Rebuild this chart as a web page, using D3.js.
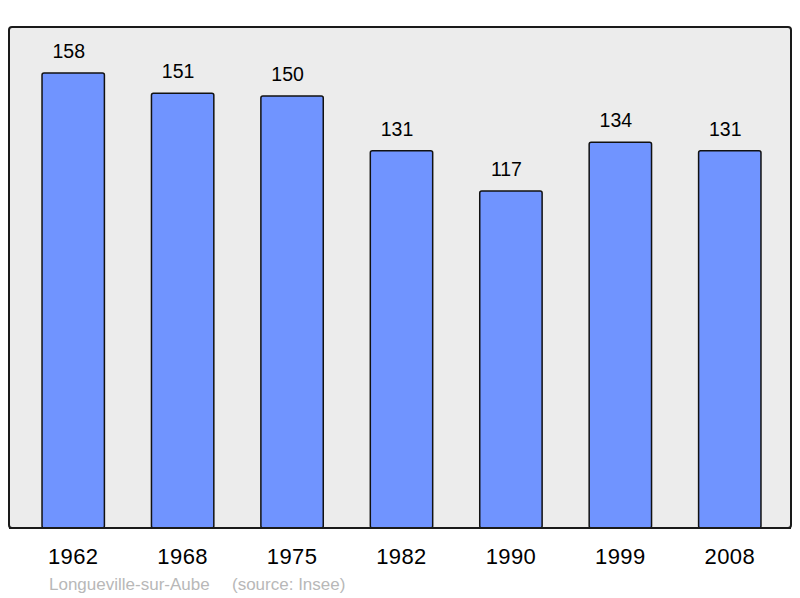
<!DOCTYPE html>
<html>
<head>
<meta charset="utf-8">
<script src="https://cdn.jsdelivr.net/npm/d3@7"></script>
<style>
  body { margin: 0; background: #fff; }
  text { font-family: "Liberation Sans", Arial, sans-serif; }
</style>
</head>
<body>
<svg id="chart" width="800" height="598"></svg>
<script>
  const years = ["1962", "1968", "1975", "1982", "1990", "1999", "2008"];
  const population = [158, 151, 150, 131, 117, 134, 131];
  const commune = "Longueville-sur-Aube";
  const source = "(source: Insee)";

  const svg = d3.select("#chart");

  const panel = { x0: 9, y0: 27, x1: 791, y1: 528 };

  const x = d3.scaleBand()
    .domain(years)
    .range([18.5, 784.5])
    .paddingInner(0.43)
    .paddingOuter(0.215);

  const y = d3.scaleLinear()
    .domain([0, 174])
    .range([panel.y1, panel.y0]);

  svg.append("rect")
    .attr("x", panel.x0)
    .attr("y", panel.y0)
    .attr("width", panel.x1 - panel.x0)
    .attr("height", panel.y1 - panel.y0)
    .attr("rx", 3)
    .attr("fill", "#ececec")
    .attr("stroke", "#1a1a1a")
    .attr("stroke-width", 2);

  const data = d3.zip(years, population);

  svg.selectAll(".bar")
    .data(data)
    .enter()
    .append("rect")
    .attr("class", "bar")
    .attr("x", (d) => x(d[0]))
    .attr("y", (d) => y(d[1]))
    .attr("width", x.bandwidth())
    .attr("height", (d) => y(0) - y(d[1]))
    .attr("rx", 2)
    .attr("fill", "#7094ff")
    .attr("stroke", "#111")
    .attr("stroke-width", 1.5);

  // redraw panel border bottom on top of bars
  svg.append("line")
    .attr("x1", panel.x0)
    .attr("x2", panel.x1)
    .attr("y1", panel.y1)
    .attr("y2", panel.y1)
    .attr("stroke", "#1a1a1a")
    .attr("stroke-width", 2);

  // value labels sit a little left of the bar centre in the original
  svg.selectAll(".value")
    .data(data)
    .enter()
    .append("text")
    .attr("class", "value")
    .attr("x", (d) => x(d[0]) + x.bandwidth() / 2 - 4.5)
    .attr("y", (d) => y(d[1]) - 15)
    .attr("text-anchor", "middle")
    .attr("font-size", 19.5)
    .attr("fill", "#000")
    .text((d) => d[1]);

  svg.selectAll(".year")
    .data(years)
    .enter()
    .append("text")
    .attr("class", "year")
    .attr("x", (d) => x(d) + x.bandwidth() / 2)
    .attr("y", 564)
    .attr("text-anchor", "middle")
    .attr("font-size", 22)
    .attr("letter-spacing", 0.4)
    .attr("fill", "#000")
    .text((d) => d);

  svg.append("text")
    .attr("x", 49)
    .attr("y", 590)
    .attr("font-size", 17)
    .attr("fill", "#b8b8b8")
    .text(commune);

  svg.append("text")
    .attr("x", 232)
    .attr("y", 590)
    .attr("font-size", 17)
    .attr("fill", "#b8b8b8")
    .text(source);
</script>
</body>
</html>
